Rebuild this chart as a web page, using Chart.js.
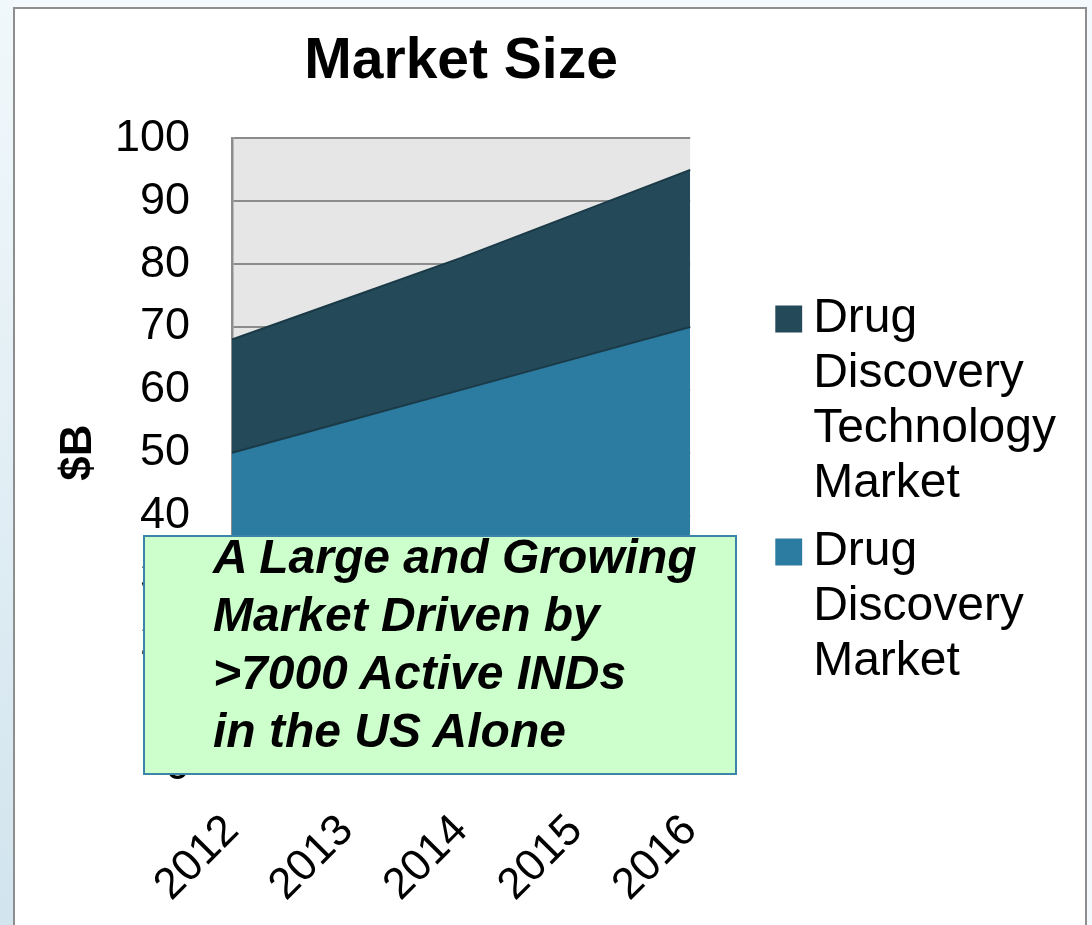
<!DOCTYPE html>
<html>
<head>
<meta charset="utf-8">
<script src="https://cdn.jsdelivr.net/npm/chart.js@4.4.1/dist/chart.umd.min.js"></script>
<style>
  html, body { margin:0; padding:0; width:1092px; height:925px; overflow:hidden; background:#f3f9fc; }
  #edge { position:absolute; left:0; top:0; width:14px; height:925px; background:linear-gradient(#f1f8fb, #d2e4ee); }
  #frame { position:absolute; left:13px; top:7px; width:1074px; height:960px; box-sizing:border-box; background:#fff; border:2px solid #8e8e8e; }
  #chart { position:absolute; left:0; top:0; }
  #note { position:absolute; left:143px; top:535px; width:594px; height:240px; box-sizing:border-box;
          background:#ccffcc; border:2px solid #3a85a8;
          font:italic bold 48px 'Liberation Sans', Arial, sans-serif; line-height:58px; color:#000; }
  #note div { position:relative; left:68px; top:-9px; white-space:nowrap; }
</style>
</head>
<body>
<div id="edge"></div>
<div id="frame"></div>
<canvas id="chart" width="1092" height="925"></canvas>
<div id="note"><div>A Large and Growing<br>Market Driven by<br>&gt;7000 Active INDs<br>in the US Alone</div></div>
<script>
// values ($B)
const years = ['2012', '2013', '2014', '2015', '2016'];
const discoveryMarket = [50, 55, 60, 65, 70];
const technologyMarket = [18, 19.5, 21, 23, 25];
const seriesNames = ['Drug Discovery Market', 'Drug Discovery Technology Market'];
const seriesColors = ['#2c7ba0', '#244959'];

const FONT = "'Liberation Sans', Arial, sans-serif";

// grey plot background
const plotBg = {
  id: 'plotBg',
  beforeDraw(chart) {
    const a = chart.chartArea, ctx = chart.ctx;
    ctx.save();
    ctx.fillStyle = '#e6e6e6';
    ctx.fillRect(a.left, a.top, a.right - a.left, a.bottom - a.top);
    ctx.restore();
  }
};

new Chart(document.getElementById('chart'), {
  type: 'line',
  data: {
    labels: years,
    datasets: [
      {
        label: seriesNames[0],
        data: discoveryMarket,
        backgroundColor: seriesColors[0],
        borderColor: '#1b3a48',
        borderWidth: 2,
        fill: 'origin'
      },
      {
        label: seriesNames[1],
        data: technologyMarket,
        backgroundColor: seriesColors[1],
        borderColor: '#1b3a48',
        borderWidth: 2,
        fill: '-1'
      }
    ]
  },
  options: {
    responsive: false,
    animation: false,
    layout: { padding: { left: 30, right: 26, top: 0, bottom: 0 } },
    elements: { point: { radius: 0 }, line: { tension: 0 } },
    plugins: {
      tooltip: { enabled: false },
      title: {
        display: true,
        text: 'Market Size',
        fullSize: false,
        color: '#000',
        font: { family: FONT, size: 57, weight: 'bold', lineHeight: 1.2 },
        padding: { top: 28, bottom: 42 }
      },
      legend: {
        position: 'right',
        reverse: true,
        maxWidth: 400,
        title: { display: true, text: '', padding: { top: 62, bottom: 0 }, font: { size: 1, lineHeight: 1 } },
        labels: {
          color: '#000',
          font: { family: FONT, size: 48, lineHeight: 1.1458 },
          // thin box + wide stroke gives a 27px square close to the text
          boxWidth: 1,
          boxHeight: 1,
          padding: 13,
          generateLabels(chart) {
            return chart.data.datasets.map((ds, i) => ({
              text: ds.label.split(' '),
              fillStyle: ds.backgroundColor,
              strokeStyle: ds.backgroundColor,
              lineWidth: 26,
              fontColor: '#000',
              hidden: false,
              datasetIndex: i
            }));
          }
        }
      }
    },
    scales: {
      x: {
        offset: false,
        grid: { display: false },
        border: { display: true, color: '#8c8c8c', width: 2 },
        ticks: { color: '#000', font: { family: FONT, size: 44 }, minRotation: 45, maxRotation: 45, autoSkip: false, padding: 30 },
        afterFit(s) { s.height = 158; }
      },
      y: {
        stacked: true,
        min: 0,
        max: 100,
        ticks: { stepSize: 10, color: '#000', font: { family: FONT, size: 45 }, padding: 42 },
        grid: { color: '#8c8c8c', lineWidth: 2, drawTicks: false },
        border: { color: '#8c8c8c', width: 2.5 },
        title: {
          display: true,
          text: '$B',
          color: '#000',
          font: { family: FONT, size: 44, weight: 'bold', lineHeight: 1.2 },
          padding: { top: 22, bottom: 0 }
        },
        afterFit(s) { s.width = 202; }
      },
      gap: {
        type: 'linear',
        position: 'right',
        display: true,
        grid: { display: false },
        ticks: { display: false },
        border: { display: false },
        afterFit(s) { s.width = 85; }
      }
    }
  },
  plugins: [plotBg]
});
</script>
</body>
</html>
